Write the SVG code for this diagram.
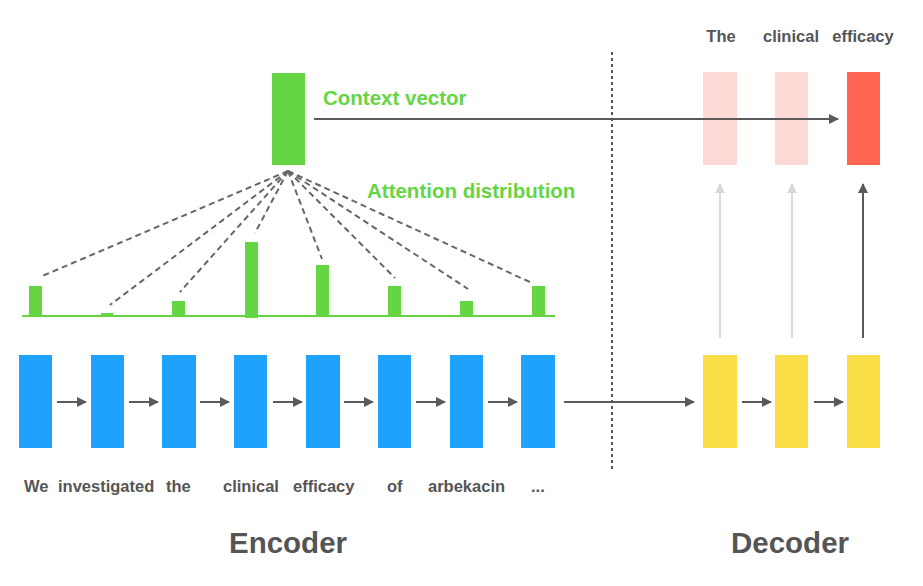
<svg xmlns="http://www.w3.org/2000/svg" width="923" height="586" viewBox="0 0 923 586">
<defs>
<marker id="ah" markerWidth="10" markerHeight="10" refX="9" refY="5" orient="auto" markerUnits="userSpaceOnUse"><path d="M0,0 L10,5 L0,10 Z" fill="#5a5a5a"/></marker>
<marker id="ahl" markerWidth="10" markerHeight="10" refX="9" refY="5" orient="auto" markerUnits="userSpaceOnUse"><path d="M0,0 L10,5 L0,10 Z" fill="#d9d9d9"/></marker>
<style>
.enc{fill:#1ea2fb}
.dec{fill:#f9de47}
.bar{fill:#65d544}
.pink{fill:#fdd9d5}
.red{fill:#fe6552}
.ar{stroke:#5a5a5a;stroke-width:2;fill:none}
.arl{stroke:#d9d9d9;stroke-width:2;fill:none}
.dash{stroke:#666;stroke-width:2;stroke-dasharray:6,4;fill:none}
.w{font-family:"Liberation Sans",Arial,sans-serif;font-weight:bold;font-size:16.5px;fill:#555}
.g{font-family:"Liberation Sans",Arial,sans-serif;font-weight:bold;font-size:20.5px;fill:#65d544}
.big{font-family:"Liberation Sans",Arial,sans-serif;font-weight:bold;font-size:29.5px;fill:#555;text-anchor:middle}
</style>
</defs>
<rect width="923" height="586" fill="#fff"/>

<g id="context"><rect class="bar" x="272" y="73" width="33" height="92"/></g>
<g id="labels-green">
<text class="g" x="323" y="105">Context vector</text>
<text class="g" x="367" y="198">Attention distribution</text>
</g>

<g id="attention">
<line x1="22" y1="316" x2="555" y2="316" stroke="#65d544" stroke-width="2"/>
<rect class="bar" x="29" y="286" width="13" height="30"/>
<rect class="bar" x="101" y="313" width="12" height="3"/>
<rect class="bar" x="172" y="301" width="13" height="15"/>
<rect class="bar" x="245" y="242" width="13" height="76"/>
<rect class="bar" x="316" y="265" width="13" height="51"/>
<rect class="bar" x="388" y="286" width="13" height="30"/>
<rect class="bar" x="460" y="301" width="13" height="15"/>
<rect class="bar" x="532" y="286" width="13" height="30"/>
</g>

<g id="enc1"><rect class="enc" x="19" y="355" width="33" height="93"/></g>
<g id="enc2"><rect class="enc" x="91" y="355" width="33" height="93"/></g>
<g id="enc3"><rect class="enc" x="162" y="355" width="34" height="93"/></g>
<g id="enc4"><rect class="enc" x="234" y="355" width="33" height="93"/></g>
<g id="enc5"><rect class="enc" x="306" y="355" width="34" height="93"/></g>
<g id="enc6"><rect class="enc" x="378" y="355" width="33" height="93"/></g>
<g id="enc7"><rect class="enc" x="450" y="355" width="33" height="93"/></g>
<g id="enc8"><rect class="enc" x="521" y="355" width="34" height="93"/></g>

<g id="dec1"><rect class="dec" x="703" y="355" width="34" height="93"/></g>
<g id="dec2"><rect class="dec" x="775" y="355" width="33" height="93"/></g>
<g id="dec3"><rect class="dec" x="847" y="355" width="33" height="93"/></g>

<g id="out1"><rect class="pink" x="703" y="72" width="34" height="93"/></g>
<g id="out2"><rect class="pink" x="775" y="72" width="33" height="93"/></g>
<g id="out3"><rect class="red" x="847" y="72" width="33" height="93"/></g>

<g id="connectors">
<line class="ar" x1="314" y1="119" x2="838" y2="119" marker-end="url(#ah)"/>
<line class="ar" x1="564" y1="402" x2="694" y2="402" marker-end="url(#ah)"/>
<line class="ar" x1="57" y1="402" x2="86" y2="402" marker-end="url(#ah)"/>
<line class="ar" x1="129" y1="402" x2="158" y2="402" marker-end="url(#ah)"/>
<line class="ar" x1="200" y1="402" x2="229" y2="402" marker-end="url(#ah)"/>
<line class="ar" x1="273" y1="402" x2="302" y2="402" marker-end="url(#ah)"/>
<line class="ar" x1="344" y1="402" x2="373" y2="402" marker-end="url(#ah)"/>
<line class="ar" x1="416" y1="402" x2="445" y2="402" marker-end="url(#ah)"/>
<line class="ar" x1="488" y1="402" x2="517" y2="402" marker-end="url(#ah)"/>
<line class="ar" x1="742" y1="402" x2="771" y2="402" marker-end="url(#ah)"/>
<line class="ar" x1="814" y1="402" x2="843" y2="402" marker-end="url(#ah)"/>
<line class="arl" x1="720" y1="338" x2="720" y2="184" marker-end="url(#ahl)"/>
<line class="arl" x1="792" y1="338" x2="792" y2="184" marker-end="url(#ahl)"/>
<line class="ar" x1="863" y1="338" x2="863" y2="184" marker-end="url(#ah)"/>
<line class="dash" x1="288" y1="171" x2="40" y2="277"/>
<line class="dash" x1="288" y1="171" x2="110" y2="305"/>
<line class="dash" x1="288" y1="171" x2="180" y2="292"/>
<line class="dash" x1="288" y1="171" x2="255" y2="233"/>
<line class="dash" x1="288" y1="171" x2="322" y2="259"/>
<line class="dash" x1="288" y1="171" x2="395" y2="278"/>
<line class="dash" x1="288" y1="171" x2="468" y2="289"/>
<line class="dash" x1="288" y1="171" x2="532" y2="283"/>
<line x1="612" y1="52" x2="612" y2="470" stroke="#555" stroke-width="2" stroke-dasharray="3,3"/>
</g>

<g id="words">
<text class="w" x="24" y="492">We</text>
<text class="w" x="58" y="492">investigated</text>
<text class="w" x="166" y="492">the</text>
<text class="w" x="223" y="492">clinical</text>
<text class="w" x="293" y="492">efficacy</text>
<text class="w" x="387" y="492">of</text>
<text class="w" x="428" y="492">arbekacin</text>
<text class="w" x="531" y="492">...</text>
<text class="w" x="721" y="42" text-anchor="middle">The</text>
<text class="w" x="791" y="42" text-anchor="middle">clinical</text>
<text class="w" x="863" y="42" text-anchor="middle">efficacy</text>
</g>

<g id="titles">
<text class="big" x="288" y="553">Encoder</text>
<text class="big" x="790" y="553">Decoder</text>
</g>
</svg>
